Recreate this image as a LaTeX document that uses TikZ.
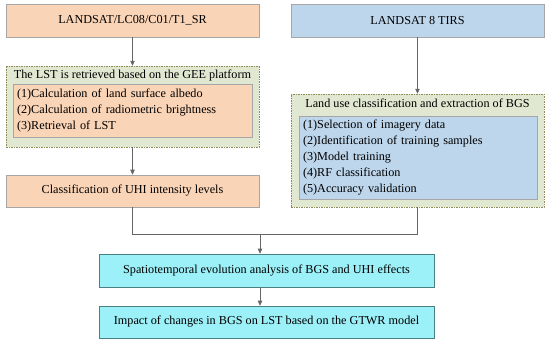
\documentclass[tikz,border=0pt]{standalone}
\usepackage{fontspec}
\setmainfont{Liberation Serif}
\usetikzlibrary{arrows.meta, positioning}
\definecolor{peach}{HTML}{FAD4B6}
\definecolor{skyblue}{HTML}{BDD6EC}
\definecolor{palegreen}{HTML}{E0E8D2}
\definecolor{aqua}{HTML}{9CF0F8}

\begin{document}
\begin{tikzpicture}[x=1pt, y=-1pt, font=\fontsize{12.2}{16}\selectfont,
    box/.style={draw=gray!70, line width=0.6pt, inner sep=3pt},
    orangebox/.style={box, fill=peach},
    bluebox/.style={box, fill=skyblue},
    cyanbox/.style={box, draw=gray!60!teal, fill=aqua},
    groupbox/.style={draw=gray!60!olive, fill=palegreen, dashed, dash pattern=on 1.5pt off 1pt, line width=0.5pt},
    flow/.style={-{Triangle[length=5pt, width=4.5pt]}, gray!80!black, line width=0.6pt},
    link/.style={gray!80!black, line width=0.6pt}]

  \useasboundingbox (0,0) rectangle (550,343);

  % left column
  \node[orangebox, minimum width=253pt, minimum height=33pt] (sr) at (132.5,20.5) {LANDSAT/LC08/C01/T1\_SR};
  \node[groupbox, minimum width=253pt, minimum height=81pt] (gee) at (132.5,106.5) {};
  \node (geetitle) at (132.5,76) {The LST is retrieved based on the GEE platform};
  \node[orangebox, minimum width=239pt, minimum height=53pt, text width=231pt, align=left] (lststeps) at (132.5,110.5)
    {(1)Calculation of land surface albedo\\(2)Calculation of radiometric brightness\\(3)Retrieval of LST};
  \node[orangebox, minimum width=253pt, minimum height=32pt] (uhi) at (132.5,191) {Classification of UHI intensity levels};

  % right column
  \node[bluebox, minimum width=253pt, minimum height=33pt] (tirs) at (417.5,20.5) {LANDSAT 8 TIRS};
  \node[groupbox, minimum width=253pt, minimum height=113pt] (luc) at (417.5,150.5) {};
  \node (luctitle) at (417.5,103) {Land use classification and extraction of BGS};
  \node[bluebox, minimum width=238pt, minimum height=83pt, text width=230pt, align=left] (lucsteps) at (418,157.5)
    {(1)Selection of imagery data\\(2)Identification of training samples\\(3)Model training\\(4)RF classification\\(5)Accuracy validation};

  % bottom
  \node[cyanbox, minimum width=335pt, minimum height=33pt] (evol) at (266.5,270.5) {Spatiotemporal evolution analysis of BGS and UHI effects};
  \node[cyanbox, minimum width=335pt, minimum height=32pt] (gtwr) at (266.5,322) {Impact of changes in BGS on LST based on the GTWR model};
  \coordinate (merge) at (260,234);

  \draw[flow] (sr) -- (gee);
  \draw[flow] (gee) -- (uhi);
  \draw[flow] (tirs.south) -- (tirs.south |- luc.north);
  \draw[link] (uhi.south) |- (merge);
  \draw[link] (luc.south) |- (merge);
  \draw[flow] (merge) -- (merge |- evol.north);
  \draw[flow] (merge |- evol.south) -- (merge |- gtwr.north);
\end{tikzpicture}
\end{document}
